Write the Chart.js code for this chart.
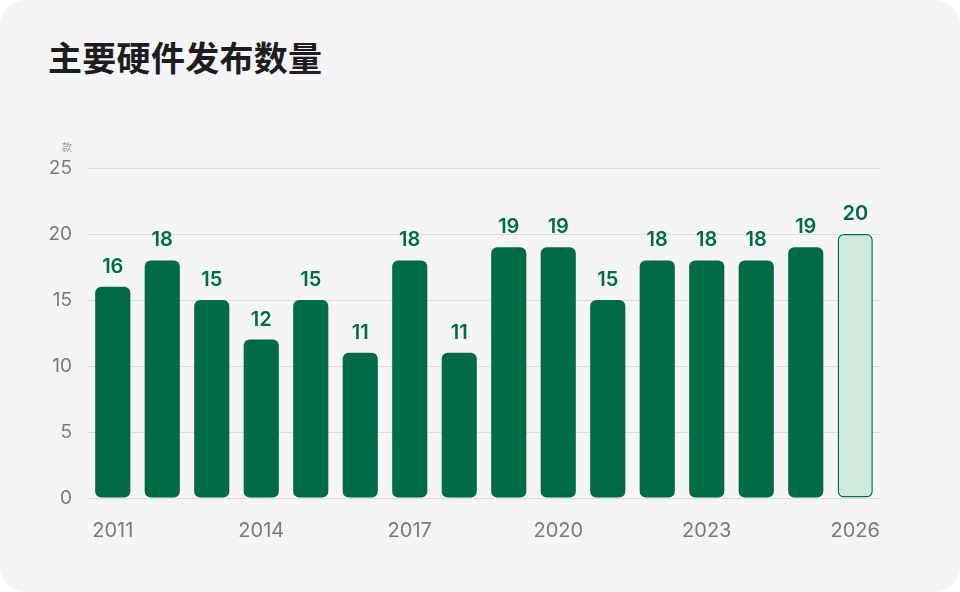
<!DOCTYPE html>
<html>
<head>
<meta charset="utf-8">
<script src="https://cdn.jsdelivr.net/npm/chart.js@4"></script>
<style>
  html, body { margin: 0; padding: 0; background: #ffffff; }
  .card {
    position: relative;
    width: 960px;
    height: 592px;
    background: #f5f5f7;
    border-radius: 26px;
    overflow: hidden;
  }
  .card h1 {
    position: absolute;
    left: 48px;
    top: 32px;
    margin: 0;
    font-family: "Noto Sans CJK SC", sans-serif;
    font-size: 34px;
    font-weight: 700;
    color: #1d1d1f;
    letter-spacing: 0.3px;
  }
  .card canvas { position: absolute; left: 0; top: 0; }
</style>
</head>
<body>
<div class="card">
  <h1>主要硬件发布数量</h1>
  <canvas id="chart" width="960" height="592"></canvas>
</div>
<script>
// 年份
const years = ["2011", "2012", "2013", "2014", "2015", "2016", "2017", "2018",
               "2019", "2020", "2021", "2022", "2023", "2024", "2025", "2026"];
// 发布数量
const counts = [16, 18, 15, 12, 15, 11, 18, 11, 19, 19, 15, 18, 18, 18, 19, 20];
// y轴刻度
const yTicks = [0, 5, 10, 15, 20, 25];
const unitLabel = "款";

const green = "#006b45";
const lightGreen = "#cfe9dc";
const lastIdx = counts.length - 1;

// 柱顶数值
const valueLabels = {
  id: "valueLabels",
  afterDatasetsDraw(chart) {
    const ctx = chart.ctx;
    const meta = chart.getDatasetMeta(0);
    ctx.save();
    ctx.fillStyle = green;
    ctx.font = "600 20px Inter, sans-serif";
    ctx.textAlign = "center";
    ctx.textBaseline = "bottom";
    meta.data.forEach((bar, i) => {
      ctx.fillText(String(counts[i]), bar.x, bar.y - 10);
    });
    ctx.restore();
  }
};

// 单位
const unitText = {
  id: "unitText",
  afterDraw(chart) {
    const y = chart.scales.y;
    const ctx = chart.ctx;
    ctx.save();
    ctx.fillStyle = "#999";
    ctx.font = "10px 'Noto Sans CJK SC', sans-serif";
    ctx.textAlign = "center";
    ctx.textBaseline = "middle";
    ctx.fillText(unitLabel, 67, y.getPixelForValue(25) - 21);
    ctx.restore();
  }
};

new Chart(document.getElementById("chart"), {
  type: "bar",
  data: {
    labels: years,
    datasets: [{
      data: counts,
      backgroundColor: counts.map((v, i) => i === lastIdx ? lightGreen : green),
      borderColor: green,
      borderWidth: counts.map((v, i) => i === lastIdx ? 1.5 : 0),
      borderRadius: 6,
      borderSkipped: false,
      barPercentage: 0.71,
      categoryPercentage: 1
    }]
  },
  options: {
    responsive: false,
    animation: false,
    layout: {
      padding: { left: 48, right: 80, top: 168, bottom: 40 }
    },
    plugins: {
      legend: { display: false },
      tooltip: { enabled: false }
    },
    scales: {
      x: {
        grid: { display: false },
        border: { display: false },
        afterFit(scale) { scale.height = 54; },
        ticks: {
          autoSkip: false,
          maxRotation: 0,
          padding: 13,
          color: "#7a7a7e",
          font: { family: "Inter, sans-serif", size: 20 },
          callback(value, index) {
            return index % 3 === 0 ? years[index] : "";
          }
        }
      },
      y: {
        min: 0,
        max: 25,
        afterFit(scale) { scale.width = 40; },
        afterBuildTicks(scale) {
          scale.ticks = yTicks.map(v => ({ value: v }));
        },
        grid: { color: "#dcdcdf", lineWidth: 1, drawTicks: false },
        border: { display: false },
        ticks: {
          padding: 16,
          color: "#7a7a7e",
          font: { family: "Inter, sans-serif", size: 19 }
        }
      }
    }
  },
  plugins: [valueLabels, unitText]
});
</script>
</body>
</html>
